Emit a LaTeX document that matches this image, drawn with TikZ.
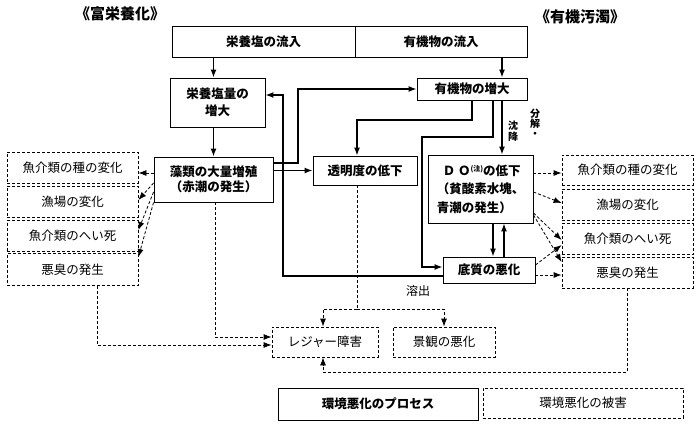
\documentclass[tikz,border=0pt]{standalone}
\usepackage{fontspec}
\usetikzlibrary{arrows.meta}
\newfontfamily\jpfont{Noto Sans CJK JP}

\begin{document}
\begin{tikzpicture}[x=1pt, y=-1pt, >={Latex[length=8pt,width=6pt]},
  procbox/.style={draw, line width=0.9pt, align=center, inner sep=0pt,
    font=\jpfont\bfseries\fontsize{12.5}{17}\selectfont},
  harmbox/.style={draw, line width=0.8pt, dash pattern=on 3pt off 2pt,
    align=center, inner sep=0pt, font=\jpfont\fontsize{12.5}{15}\selectfont},
  procline/.style={->, line width=1.3pt},
  harmline/.style={->, line width=0.8pt, dash pattern=on 3pt off 2pt}]

  \useasboundingbox (0,0) rectangle (700,425);

  % --- 1. 見出し ---
  \node[font=\jpfont\bfseries\fontsize{15}{15}\selectfont] (titleL) at (120,14) {《富栄養化》};
  \node[font=\jpfont\bfseries\fontsize{15}{15}\selectfont] (titleR) at (580,17) {《有機汚濁》};

  % --- 2. 流入 ---
  \node[procbox, minimum width=183, minimum height=31] (topL) at (263.5,41.5) {栄養塩の流入};
  \node[procbox, minimum width=172, minimum height=31] (topR) at (441,41.5) {有機物の流入};

  % --- 3. 環境悪化のプロセス ---
  \node[procbox, minimum width=95, minimum height=49] (nutri) at (217.5,102.5) {栄養塩量の\\増大};
  \node[procbox, minimum width=110, minimum height=22] (orgup) at (472,89) {有機物の増大};
  \node[procbox, minimum width=119, minimum height=45,
    font=\jpfont\bfseries\fontsize{12.5}{15.5}\selectfont] (algae) at (213.5,179.5) {藻類の大量増殖\\（赤潮の発生）};
  \node[procbox, minimum width=104, minimum height=29] (trans) at (365,170.5) {透明度の低下};
  \node[procbox, minimum width=105, minimum height=68, align=left,
    font=\jpfont\bfseries\fontsize{12.5}{18.5}\selectfont] (do) at (480.5,189)
    {\hspace*{6pt}Ｄ Ｏ\raisebox{4pt}{\fontsize{7}{7}\selectfont (注)}の低下\\（貧酸素水塊、\\青潮の発生）};
  \node[procbox, minimum width=92, minimum height=26] (sed) at (489,270) {底質の悪化};

  % --- 4. 環境悪化の被害 ---
  \node[harmbox, minimum width=131, minimum height=31] (L1) at (72.5,167.5) {魚介類の種の変化};
  \node[harmbox, minimum width=131, minimum height=31] (L2) at (72.5,201.5) {漁場の変化};
  \node[harmbox, minimum width=131, minimum height=31] (L3) at (72.5,236) {魚介類のへい死};
  \node[harmbox, minimum width=131, minimum height=32] (L4) at (72.5,269.5) {悪臭の発生};

  \node[harmbox, minimum width=131, minimum height=30] (R1) at (627.5,170) {魚介類の種の変化};
  \node[harmbox, minimum width=131, minimum height=31] (R2) at (627.5,204.5) {漁場の変化};
  \node[harmbox, minimum width=131, minimum height=31] (R3) at (627.5,239) {魚介類のへい死};
  \node[harmbox, minimum width=131, minimum height=31] (R4) at (627.5,272.5) {悪臭の発生};

  \node[harmbox, minimum width=106, minimum height=30] (leisure) at (325,342) {レジャー障害};
  \node[harmbox, minimum width=102, minimum height=30] (scene) at (444,342) {景観の悪化};

  % --- 5. 凡例 ---
  \node[procbox, minimum width=200, minimum height=32] (keyproc) at (378,404) {環境悪化のプロセス};
  \node[harmbox, minimum width=200, minimum height=30] (keyharm) at (583,403) {環境悪化の被害};

  % --- 6. プロセスの矢印 ---
  \coordinate (j1) at (298,163);
  \coordinate (j2) at (357,120);
  \coordinate (j3) at (422,137);
  \coordinate (j4) at (283,95);

  \draw[procline] (topL.south -| algae.north) -- (nutri.north -| algae.north);
  \draw[procline] ([xshift=30]orgup.north |- topR.south) -- ([xshift=30]orgup.north);
  \draw[procline] (nutri.south -| algae.north) -- (algae.north);
  \draw[procline] (j1 -| algae.east) -- (j1) |- (orgup.west);
  \draw[procline] (algae.east |- trans.west) -- (trans.west);
  \draw[procline] (orgup.south) |- (j2) -- (j2 |- trans.north);
  \draw[procline] ([xshift=21]orgup.south) |- (j3) |- ([yshift=3]sed.west);
  \draw[procline] ([xshift=30]orgup.south) -- ([xshift=30]orgup.south |- do.north);
  \draw[procline] ([yshift=-6]sed.west) -| (j4) -- (j4 -| nutri.east);
  \draw[procline] ([xshift=12.5]do.south) -- ([xshift=12.5]do.south |- sed.north);
  \draw[procline] ([xshift=23.5]do.south |- sed.north) -- ([xshift=23.5]do.south);

  \node[font=\jpfont\fontsize{12}{12}\selectfont] (elute) at (418,291) {溶出};
  \node[font=\jpfont\bfseries\fontsize{10}{10}\selectfont, align=center] (bunkai) at (535,123) {分\\解\\・};
  \node[font=\jpfont\bfseries\fontsize{10}{11}\selectfont, align=center] (chinko) at (513,131) {沈\\降};

  % --- 7. 被害への矢印 ---
  \draw[harmline] ([yshift=6.5]algae.west) -- ([yshift=-5.5]L1.east);
  \draw[harmline] ([yshift=-3.5]algae.west) -- ([yshift=1.5]L2.east);
  \draw[harmline] ([yshift=-12.5]algae.west) -- ([yshift=6]L3.east);
  \draw[harmline] (algae.south west) -- ([yshift=12.5]L4.east);

  \draw[harmline] ([yshift=16]do.east) -- ([yshift=-3]R1.west);
  \draw[harmline] ([yshift=-3]do.east) -- ([yshift=1.5]R2.west);
  \draw[harmline] ([yshift=-24]do.east) -- ([yshift=-1]R3.west);
  \draw[harmline] ([yshift=-26]do.east) -- ([yshift=10.5]R4.west);
  \draw[harmline] ([yshift=5]sed.east) -- ([yshift=-6]R3.west);
  \draw[harmline] ([yshift=-5]sed.east) -- ([yshift=-2.5]R4.west);

  \coordinate (t1) at (357,309);
  \coordinate (r1) at (627.5,372);
  \draw[harmline] ([xshift=24.5]L4.south) |- ([yshift=-3]leisure.west);
  \draw[harmline] ([xshift=1.5]algae.south) |- ([yshift=5]leisure.west);
  \draw[line width=0.8pt, dash pattern=on 3pt off 2pt] (t1 |- trans.south) -- (t1);
  \draw[harmline] (t1) -| ([xshift=-2]leisure.north);
  \draw[harmline] (t1) -| (scene.north);
  \draw[harmline] (R4.south) -- (r1) -| ([xshift=-2]leisure.south);

\end{tikzpicture}
\end{document}
